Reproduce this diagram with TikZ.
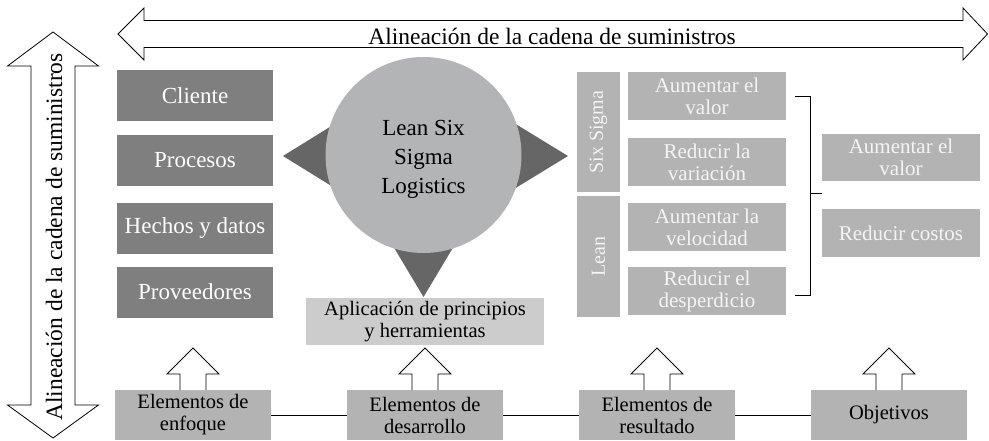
\documentclass[tikz,border=0pt]{standalone}
\usepackage{fontspec}
\setmainfont{Liberation Serif}
\usetikzlibrary{calc}
\definecolor{dk}{HTML}{7F7F7F}
\definecolor{tri}{HTML}{666666}
\definecolor{circ}{HTML}{B2B4B6}
\definecolor{lt}{HTML}{B3B3B3}
\definecolor{ap}{HTML}{CCCCCC}
\definecolor{wt}{HTML}{F4F4F4}
\begin{document}
\begin{tikzpicture}[x=1pt,y=-1pt,
 every node/.style={inner sep=0pt, outer sep=0pt},
 leftbox/.style={fill=dk, text=white, minimum width=156pt, minimum height=51pt, font=\fontsize{23}{25}\selectfont},
 rbox/.style={fill=lt, text=wt, minimum width=158pt, minimum height=48pt, align=center, font=\fontsize{21}{22}\selectfont},
 bar/.style={fill=lt, text=wt, rotate=90, minimum height=43pt, font=\fontsize{20}{22}\selectfont},
 botbox/.style={fill=lt, text=black, minimum width=156pt, minimum height=50pt, align=center, font=\fontsize{20.5}{22}\selectfont},
 outline/.style={draw=black, line width=0.8pt, fill=white, line join=miter},
 link/.style={draw=black, line width=0.8pt}]
\useasboundingbox (0,0) rectangle (989,441);

% horizontal double arrow
\draw[outline] (118,34) -- (144,8) -- (144,20.5) -- (963,20.5) -- (963,8) -- (987.5,34) -- (963,60) -- (963,47.5) -- (144,47.5) -- (144,60) -- cycle;
\node[font=\fontsize{23.5}{25}\selectfont] (ht) at (552,36) {Alineación de la cadena de suministros};

% vertical double arrow
\draw[outline] (53,32) -- (98.5,66) -- (75,66) -- (75,405) -- (98.5,405) -- (53,438) -- (7.5,405) -- (31,405) -- (31,66) -- (7.5,66) -- cycle;
\node[rotate=90, font=\fontsize{23.5}{25}\selectfont] (vt) at (54,237) {Alineación de la cadena de suministros};

% central circle with triangles
\coordinate (cc) at (423.5,155);
\fill[tri] ($(cc)+(-140.5,1)$) -- ($(cc)+(-63,-47)$) -- ($(cc)+(-63,49)$) -- cycle;
\fill[tri] ($(cc)+(144.5,1)$) -- ($(cc)+(66,-47)$) -- ($(cc)+(66,49)$) -- cycle;
\fill[tri] ($(cc)+(0,142)$) -- ($(cc)+(-46,65)$) -- ($(cc)+(46,65)$) -- cycle;
\node[circle, fill=circ, minimum size=196pt] (lss) at (cc) {};
\node[align=center, font=\fontsize{23}{29}\selectfont] (lsstxt) at ($(lss.center)+(0,4)$) {Lean Six\\Sigma\\Logistics};

% left boxes
\node[leftbox] (cli) at (195,95.5) {Cliente};
\node[leftbox] (pro) at (195,160.5) {Procesos};
\node[leftbox] (hyd) at (195,228.5) {Hechos y datos};
\node[leftbox] (prv) at (195,292) {Proveedores};

% application box
\node[fill=ap, minimum width=238pt, minimum height=47pt, align=center, font=\fontsize{20.5}{22}\selectfont] (apl) at (425,321.5) {Aplicación de principios\\y herramientas};

% bars
\node[bar, minimum width=120pt] (ss) at (598.5,132) {Six Sigma};
\node[bar, minimum width=121pt] (ln) at (598.5,256.5) {Lean};

% right boxes
\node[rbox] (r1) at (707,96) {Aumentar el\\valor};
\node[rbox] (r2) at (707,162) {Reducir la\\variación};
\node[rbox] (r3) at (707,227) {Aumentar la\\velocidad};
\node[rbox] (r4) at (707,291) {Reducir el\\desperdicio};

% far right boxes
\node[rbox, minimum height=47pt] (o1) at (901,157.5) {Aumentar el\\valor};
\node[rbox] (o2) at (901,233) {Reducir costos};

% bracket
\coordinate (bkt) at (810,96);
\coordinate (bkb) at (810,295);
\coordinate (bm) at (810,193);
\draw[link] ([xshift=9pt]r1.east) -- (bkt) -- (bkb) -- (795,295);
\draw[link] (bm) -- (o1.west |- bm);

% bottom boxes
\node[botbox] (e1) at (193,415) {Elementos de\\enfoque};
\node[botbox] (e2) at (425,415) {Elementos de\\desarrollo};
\node[botbox] (e3) at (657,415) {Elementos de\\resultado};
\node[botbox] (e4) at (889,415) {Objetivos};
\draw[link] (e1) -- (e2);
\draw[link] (e2) -- (e3);
\draw[link] (e3) -- (e4);

% up arrows
\foreach \n in {e1,e2,e3,e4}
  \draw[outline] ($(\n.north)+(-13,0)$) -- ++(0,-16) -- ++(-13,0) -- ++(26,-26) -- ++(26,26) -- ++(-13,0) -- ++(0,16);
\end{tikzpicture}
\end{document}
